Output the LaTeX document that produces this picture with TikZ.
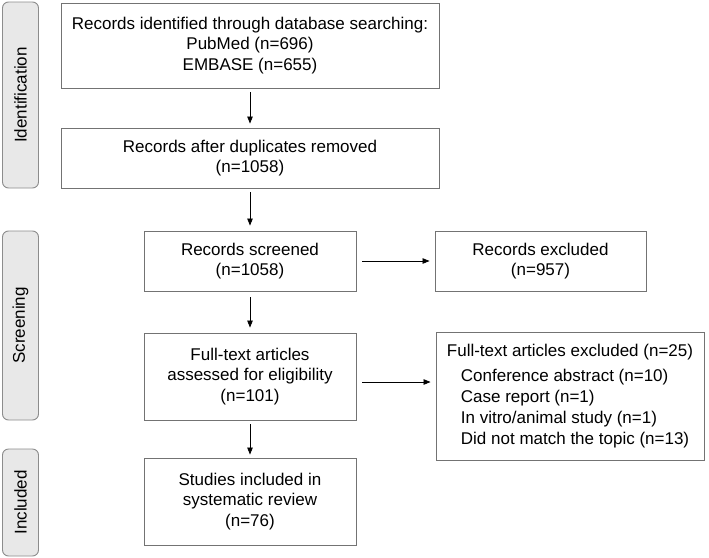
\documentclass[tikz,border=0pt]{standalone}
\usepackage{fontspec}
\setmainfont{Liberation Sans}
\usetikzlibrary{arrows.meta,calc}
\tikzset{
  every node/.style={font=\fontsize{17}{20.5}\selectfont},
  box/.style={draw=black!55, line width=0.9pt, align=center, inner sep=2pt},
  phase/.style={draw=black!45, fill=black!9, rounded corners=6pt, line width=0.9pt, minimum height=36pt, rotate=90},
  arr/.style={-{Triangle[length=7pt,width=5.5pt]}, line width=0.8pt}
}
\begin{document}
\begin{tikzpicture}[x=1pt,y=1pt]
\useasboundingbox (0,0) rectangle (709,-557);
% phases
\node[phase, minimum width=186pt] (ident) at (20.5,-95) {Identification};
\node[phase, minimum width=189pt] (screen) at (20.5,-325.5) {Screening};
\node[phase, minimum width=107pt] (incl) at (20.5,-502.5) {Included};
% main column
\node[box, minimum width=378pt, minimum height=85pt] (recs) at (250,-45.5) {Records identified through database searching:\\PubMed (n=696)\\EMBASE (n=655)};
\node[box, minimum width=378pt, minimum height=60pt] (dedup) at (250,-158) {Records after duplicates removed\\(n=1058)};
\node[box, minimum width=212pt, minimum height=60pt] (screened) at (250,-261) {Records screened\\(n=1058)};
\node[box, minimum width=212pt, minimum height=87pt] (fulltext) at (250,-376.5) {Full-text articles\\assessed for eligibility\\(n=101)};
\node[box, minimum width=212pt, minimum height=87pt] (included) at (250,-501.5) {Studies included in\\systematic review\\(n=76)};
% exclusions
\node[box, align=left, minimum width=211pt, minimum height=60pt, align=center] (excluded) at (540.5,-261) {Records excluded\\(n=957)};
\node[box, align=left, minimum width=268pt, minimum height=128pt, font=\fontsize{17}{21}\selectfont] (ftexcl) at (570,-396) {Full-text articles excluded (n=25)\\[4pt]
\hspace*{14pt}Conference abstract (n=10)\\
\hspace*{14pt}Case report (n=1)\\
\hspace*{14pt}In vitro/animal study (n=1)\\
\hspace*{14pt}Did not match the topic (n=13)};
% arrows
\draw[arr] ([yshift=-4pt]recs.south) -- ([yshift=4pt]dedup.north);
\draw[arr] ([yshift=-4pt]dedup.south) -- ([yshift=5pt]screened.north);
\draw[arr] ([yshift=-6pt]screened.south) -- ([yshift=5pt]fulltext.north);
\draw[arr] ([yshift=-4pt]fulltext.south) -- ([yshift=3pt]included.north);
\draw[arr] ([xshift=6pt]screened.east) -- ([xshift=-5pt]excluded.west);
\draw[arr] ($(fulltext.east)+(6,-5.5)$) -- ($(fulltext.east -| ftexcl.west)+(-5,-5.5)$);
\end{tikzpicture}
\end{document}
